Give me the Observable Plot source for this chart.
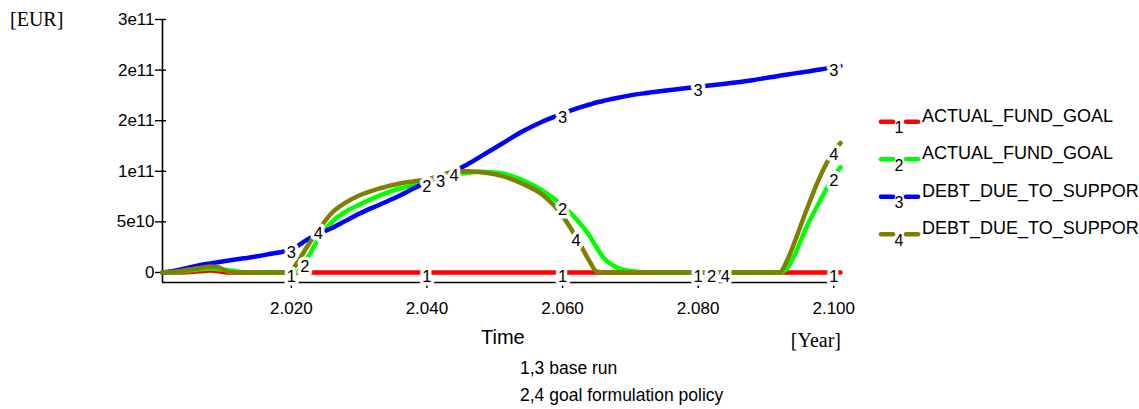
<!DOCTYPE html>
<html>
<head>
<meta charset="utf-8">
<script src="https://cdn.jsdelivr.net/npm/d3@7"></script>
<script src="https://cdn.jsdelivr.net/npm/@observablehq/plot@0.6"></script>
<style>
  html, body { margin: 0; padding: 0; background: #fff; }
  #wrap { position: relative; width: 1139px; height: 409px; overflow: hidden; background: #fff; }
  #wrap > svg { position: absolute; left: 0; top: 0; }
</style>
</head>
<body>
<div id="wrap"></div>
<script>
// ---- data (values in billions of EUR) ----
const UNIT = 1e9;
const years = [2001, 2003, 2005, 2007, 2008, 2009, 2011, 2013, 2015, 2017,
               2019, 2020, 2021, 2022, 2024, 2026, 2028, 2030, 2033, 2036,
               2038, 2040, 2042, 2044, 2046, 2048, 2051, 2054, 2057, 2060,
               2062, 2064, 2065, 2066, 2068, 2070, 2072, 2075, 2080, 2082,
               2084, 2088, 2092, 2093, 2094, 2096, 2098, 2100, 2101];
// 1: ACTUAL_FUND_GOAL, base run
const fundGoalBase = [0, 0, 0.5, 1.5, 2, 1.5, 0, 0, 0, 0,
                      0, 0, 0, 0, 0, 0, 0, 0, 0, 0,
                      0, 0, 0, 0, 0, 0, 0, 0, 0, 0,
                      0, 0, 0, 0, 0, 0, 0, 0, 0, 0,
                      0, 0, 0, 0, 0, 0, 0, 0, 0];
// 2: ACTUAL_FUND_GOAL, goal formulation policy
const fundGoalPolicy = [0, 0.5, 2, 3.5, 4, 3.5, 2, 0.3, 0, 0,
                        0, 0, 1, 10, 33, 50, 60, 67, 76, 83,
                        86, 89, 93, 96, 98.5, 99.5, 98, 91.5, 81, 66,
                        53, 36, 25, 15, 5, 1.5, 0.3, 0, 0, 0,
                        0, 0, 0, 3, 14, 45, 71, 95, 104];
// 3: DEBT_DUE_TO_SUPPORT, base run
const debtBase = [0, 2, 5, 8, 9, 10, 12, 14, 16, 18.5,
                  21, 23.5, 26.5, 31, 38, 44, 51, 58, 67, 76,
                  83, 89, 94, 100, 107, 115, 127, 139, 149, 157,
                  162, 166, 168, 169.5, 172.5, 175, 177, 179.5, 183.5, 185,
                  186.5, 190, 194.5, 195.5, 196.5, 198.5, 200.5, 203, 204];
// 4: DEBT_DUE_TO_SUPPORT, goal formulation policy
const debtPolicy = [0, 1, 3, 5, 6, 5.5, 0.5, 0, 0, 0,
                    0, 2, 11, 22, 42, 59, 69, 76, 83, 88,
                    90, 92, 96, 99.5, 100, 99, 95.5, 88, 77, 56,
                    35, 11, 1, 0, 0, 0, 0, 0, 0, 0,
                    0, 0, 0, 10, 26, 62, 95, 120, 128];

const seriesValues = [fundGoalBase, fundGoalPolicy, debtBase, debtPolicy];
const seriesNumbers = ["1", "2", "3", "4"];
const seriesNames = ["ACTUAL_FUND_GOAL", "ACTUAL_FUND_GOAL", "DEBT_DUE_TO_SUPPORT", "DEBT_DUE_TO_SUPPORT"];
const seriesColors = ["#ff0000", "#00ff00", "#0000ff", "#808000"];
const markerYears = [
  [2020, 2040, 2060, 2080, 2100],
  [2022, 2040, 2060, 2082, 2100],
  [2020, 2042, 2060, 2080, 2100],
  [2024, 2044, 2062, 2084, 2100]
];
const yTicks = [0, 5e10, 1e11, 1.5e11, 2e11, 2.5e11];
const yTickLabels = ["0", "5e10", "1e11", "2e11", "2e11", "3e11"];
const xTicks = [2020, 2040, 2060, 2080, 2100];
const xTickLabels = ["2.020", "2.040", "2.060", "2.080", "2.100"];
const yUnit = "[EUR]";
const xTitle = "Time";
const xUnit = "[Year]";
const captions = ["1,3 base run", "2,4 goal formulation policy"];

// ---- tables ----
const rows = [];
seriesValues.forEach((vals, s) => {
  years.forEach((yr, i) => rows.push({s, year: yr, value: vals[i] * UNIT}));
});
const markers = [];
markerYears.forEach((list, s) => {
  list.forEach(yr => {
    const i = years.indexOf(yr);
    markers.push({s, year: yr, value: seriesValues[s][i] * UNIT, label: seriesNumbers[s]});
  });
});

const yMin = -9.9e9, yMax = 2.5e11;
const sans = '"Liberation Sans", Arial, Helvetica, sans-serif';
const serif = '"Liberation Serif", "Times New Roman", serif';

const chart = Plot.plot({
  width: 1139,
  height: 409,
  marginTop: 19,
  marginBottom: 127,
  marginLeft: 162,
  marginRight: 299,
  x: {domain: [2001, 2101]},
  y: {domain: [yMin, yMax]},
  style: {fontFamily: sans, fontSize: "17px", color: "black", background: "white", overflow: "visible"},
  marks: [
    Plot.ruleX([2001], {stroke: "black", strokeWidth: 1.6}),
    Plot.ruleY([yMin], {stroke: "black", strokeWidth: 1.6}),
    Plot.axisY({ticks: yTicks, tickFormat: d => yTickLabels[yTicks.indexOf(d)], tickSize: 11, dx: 4, tickPadding: 1, label: null, strokeWidth: 1.4, fontSize: 17}),
    Plot.axisX({ticks: xTicks, tickFormat: d => xTickLabels[xTicks.indexOf(d)], tickSize: 13, dy: -7, tickPadding: 13, label: null, strokeWidth: 1.4, fontSize: 17}),
    ...seriesValues.map((v, s) => Plot.line(rows.filter(r => r.s === s), {
      x: "year", y: "value", stroke: seriesColors[s], strokeWidth: 4.5,
      curve: "monotone-x", strokeLinecap: "round", strokeLinejoin: "round"
    })),
    Plot.text(markers, {
      x: "year", y: "value", text: "label", dy: 4, fontSize: 16.5,
      fill: "black", stroke: "white", strokeWidth: 7, paintOrder: "stroke"
    })
  ]
});

const wrap = document.getElementById("wrap");
wrap.appendChild(chart);

// ---- overlay: titles, captions and legend ----
const ov = d3.select(wrap).append("svg")
  .attr("width", 1139).attr("height", 409)
  .style("pointer-events", "none");

ov.append("text").attr("x", 10).attr("y", 26)
  .attr("font-family", serif).attr("font-size", 20).text(yUnit);
ov.append("text").attr("x", 481).attr("y", 343.5)
  .attr("font-family", sans).attr("font-size", 20).text(xTitle);
ov.append("text").attr("x", 841).attr("y", 347).attr("text-anchor", "end")
  .attr("font-family", serif).attr("font-size", 20).text(xUnit);
const capY = [373.5, 400.5];
captions.forEach((c, i) => {
  ov.append("text").attr("x", 520).attr("y", capY[i])
    .attr("font-family", sans).attr("font-size", 17.5).text(c);
});

const legY = [121.7, 159.3, 196.7, 234.3];
seriesNames.forEach((name, s) => {
  const g = ov.append("g");
  [[881, 893], [906, 918]].forEach(([a, b]) => {
    g.append("line").attr("x1", a).attr("x2", b).attr("y1", legY[s]).attr("y2", legY[s])
      .attr("stroke", seriesColors[s]).attr("stroke-width", 4.5).attr("stroke-linecap", "round");
  });
  g.append("text").attr("x", 899).attr("y", legY[s] + 11.5).attr("text-anchor", "middle")
    .attr("font-family", sans).attr("font-size", 16).text(seriesNumbers[s]);
  g.append("text").attr("x", 922).attr("y", legY[s])
    .attr("font-family", sans).attr("font-size", 18).text(name);
});
</script>
</body>
</html>
